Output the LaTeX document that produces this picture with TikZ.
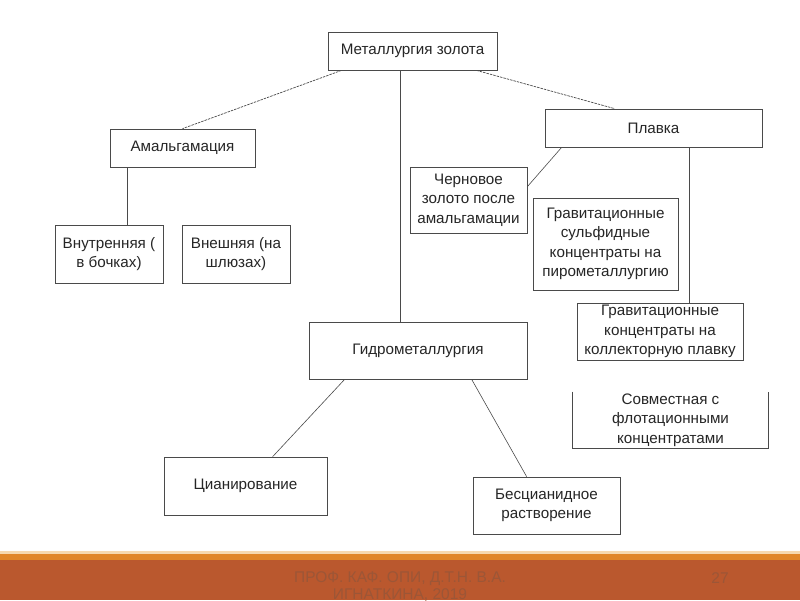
\documentclass[tikz,border=0pt]{standalone}
\usepackage{fontspec}
\setmainfont{Liberation Sans}
\usetikzlibrary{calc}
\definecolor{lineC}{HTML}{4A4A4A}
\definecolor{txtC}{HTML}{262626}
\definecolor{footDark}{HTML}{BA582E}
\definecolor{footOrange}{HTML}{E0862A}
\definecolor{footLight}{HTML}{F6D9B0}
\definecolor{footTxt}{HTML}{9C5637}
\tikzset{
  x=1pt, y=-1pt,
  box/.style={draw=lineC, line width=0.7pt, fill=white, text=txtC, align=center,
    inner sep=0pt, font=\fontsize{15.2}{19.5}\selectfont},
  conn/.style={draw=lineC, line width=0.6pt},
  dconn/.style={draw=lineC, line width=0.7pt, dash pattern=on 2.5pt off 1pt},
  foottext/.style={text=footTxt, font=\fontsize{15.5}{17}\selectfont, align=center, inner sep=0pt}
}
\begin{document}
\begin{tikzpicture}
\useasboundingbox (0,0) rectangle (800,600);
\fill[white] (0,0) rectangle (800,600);
% footer
\fill[footLight] (0,551) rectangle (800,554);
\fill[footOrange] (0,554) rectangle (800,560);
\fill[footDark] (0,560) rectangle (800,600);
\node[foottext] (ft) at (400,586.5) {ПРОФ. КАФ. ОПИ, Д.Т.Н. В.А.\\ИГНАТКИНА, 2019};
\node[foottext] (pg) at (720,578) {27};

% nodes
\node[box, minimum width=169, minimum height=38] (met) at (412.5,51) {Металлургия золота};
\node[box, minimum width=145, minimum height=38] (amal) at (182.5,148) {Амальгамация};
\node[box, minimum width=108, minimum height=58] (inner) at (109,254) {Внутренняя (\\в бочках)};
\node[box, minimum width=108, minimum height=58] (outer) at (236,254) {Внешняя (на\\шлюзах)};
\node[box, minimum width=217, minimum height=38] (plavka) at (653.5,128) {Плавка};
\node[box, minimum width=117, minimum height=66] (chern) at (468.5,200) {Черновое\\золото после\\амальгамации};
\node[box, minimum width=145, minimum height=92] (gsulf) at (605.5,244) {Гравитационные\\сульфидные\\концентраты на\\пирометаллургию};
\node[box, minimum width=166, minimum height=57] (gcoll) at (660,331.5) {Гравитационные\\концентраты на\\коллекторную плавку};
\node[box, draw=none, minimum width=195, minimum height=56] (sovm) at (670.5,420) {Совместная с\\флотационными\\концентратами};
\draw[draw=lineC, line width=0.7pt] (sovm.north west) -- (sovm.south west) -- (sovm.south east) -- (sovm.north east);
\node[box, minimum width=218, minimum height=57] (hydro) at (418,350.5) {Гидрометаллургия};
\node[box, minimum width=163, minimum height=58] (cyan) at (245.5,486) {Цианирование};
\node[box, minimum width=147, minimum height=57] (bescyan) at (546.5,505.5) {Бесцианидное\\растворение};

% connectors
\draw[dconn] ($(met.south west)+(14,0)$) -- (amal.north);
\draw[dconn] ($(met.south east)+(-21,0)$) -- ($(plavka.north west)+(70,0)$);
\draw[conn] ($(met.south)+(-12.5,0)$) coordinate (m1) -- (m1 |- hydro.north);
\draw[conn] ($(amal.south west)+(18,0)$) coordinate (a1) -- (a1 |- inner.north);
\draw[conn] ($(plavka.south west)+(17,0)$) -- ($(chern.north east)+(0,20)$);
\draw[conn] ($(plavka.south east)+(-73,0)$) coordinate (p1) -- (p1 |- gcoll.north);
\draw[conn] ($(hydro.south west)+(36,0)$) -- ($(cyan.north west)+(109,0)$);
\draw[conn] ($(hydro.south west)+(163,0)$) -- ($(bescyan.north west)+(54,0)$);
\end{tikzpicture}
\end{document}
